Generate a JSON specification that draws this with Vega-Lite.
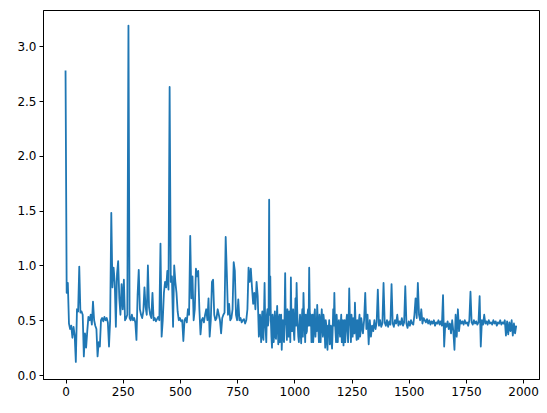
{
  "$schema": "https://vega.github.io/schema/vega-lite/v6.json",
  "autosize": "none",
  "width": 496,
  "height": 369,
  "padding": {"left": 43, "top": 10, "right": 8, "bottom": 34},
  "background": "white",
  "config": {
    "view": {"stroke": "black", "strokeWidth": 1},
    "axis": {
      "grid": false,
      "domainColor": "black",
      "domainWidth": 1,
      "tickColor": "black",
      "tickWidth": 1,
      "tickSize": 4,
      "labelFont": "DejaVu Sans",
      "labelFontSize": 12,
      "labelColor": "black",
      "labelPadding": 3,
      "title": null
    }
  },
  "data": {"values": [
    {"x":0,"y":2.78},{"x":5,"y":0.75},{"x":10,"y":0.84},{"x":15,"y":0.47},{"x":20,"y":0.42},{"x":25,"y":0.45},{"x":30,"y":0.34},{"x":35,"y":0.44},{"x":40,"y":0.36},{"x":45,"y":0.12},
    {"x":50,"y":0.6},{"x":55,"y":0.58},{"x":60,"y":0.99},{"x":65,"y":0.57},{"x":70,"y":0.58},{"x":75,"y":0.55},{"x":80,"y":0.17},{"x":85,"y":0.38},{"x":90,"y":0.25},{"x":95,"y":0.4},
    {"x":100,"y":0.53},{"x":105,"y":0.5},{"x":110,"y":0.55},{"x":115,"y":0.46},{"x":120,"y":0.67},{"x":125,"y":0.5},{"x":130,"y":0.45},{"x":135,"y":0.42},{"x":140,"y":0.17},{"x":145,"y":0.3},
    {"x":150,"y":0.26},{"x":155,"y":0.5},{"x":160,"y":0.52},{"x":165,"y":0.49},{"x":170,"y":0.53},{"x":175,"y":0.5},{"x":180,"y":0.52},{"x":185,"y":0.48},{"x":190,"y":0.26},{"x":195,"y":0.5},
    {"x":200,"y":1.48},{"x":205,"y":0.8},{"x":210,"y":0.98},{"x":215,"y":0.85},{"x":220,"y":0.44},{"x":225,"y":0.92},{"x":230,"y":1.04},{"x":235,"y":0.7},{"x":240,"y":0.55},{"x":245,"y":0.83},
    {"x":250,"y":0.6},{"x":255,"y":0.87},{"x":260,"y":0.5},{"x":265,"y":0.52},{"x":270,"y":0.55},{"x":275,"y":3.19},{"x":280,"y":0.52},{"x":285,"y":0.5},{"x":290,"y":0.55},{"x":295,"y":0.5},
    {"x":300,"y":0.52},{"x":305,"y":0.48},{"x":310,"y":0.32},{"x":315,"y":0.73},{"x":320,"y":0.96},{"x":325,"y":0.6},{"x":330,"y":0.55},{"x":335,"y":0.52},{"x":340,"y":0.58},{"x":345,"y":0.8},
    {"x":350,"y":0.62},{"x":355,"y":0.55},{"x":360,"y":1.0},{"x":365,"y":0.62},{"x":370,"y":0.55},{"x":375,"y":0.52},{"x":380,"y":0.75},{"x":385,"y":0.5},{"x":390,"y":0.52},{"x":395,"y":0.49},
    {"x":400,"y":0.51},{"x":405,"y":0.53},{"x":410,"y":0.5},{"x":415,"y":1.2},{"x":420,"y":0.35},{"x":425,"y":0.5},{"x":430,"y":0.75},{"x":435,"y":0.85},{"x":440,"y":0.8},{"x":445,"y":0.95},
    {"x":450,"y":0.78},{"x":455,"y":2.63},{"x":460,"y":0.85},{"x":465,"y":0.9},{"x":470,"y":0.44},{"x":475,"y":1.0},{"x":480,"y":0.85},{"x":485,"y":0.75},{"x":490,"y":0.58},{"x":495,"y":0.5},
    {"x":500,"y":0.52},{"x":505,"y":0.49},{"x":510,"y":0.5},{"x":515,"y":0.31},{"x":520,"y":0.5},{"x":525,"y":0.52},{"x":530,"y":0.48},{"x":535,"y":0.6},{"x":540,"y":0.55},{"x":545,"y":1.27},
    {"x":550,"y":0.7},{"x":555,"y":0.9},{"x":560,"y":0.5},{"x":565,"y":0.6},{"x":570,"y":0.97},{"x":575,"y":0.9},{"x":580,"y":0.95},{"x":585,"y":0.6},{"x":590,"y":0.37},{"x":595,"y":0.5},
    {"x":600,"y":0.52},{"x":605,"y":0.48},{"x":610,"y":0.55},{"x":615,"y":0.6},{"x":620,"y":0.5},{"x":625,"y":0.7},{"x":630,"y":0.35},{"x":635,"y":0.5},{"x":640,"y":0.85},{"x":645,"y":0.87},
    {"x":650,"y":0.55},{"x":655,"y":0.5},{"x":660,"y":0.52},{"x":665,"y":0.6},{"x":670,"y":0.55},{"x":675,"y":0.5},{"x":680,"y":0.38},{"x":685,"y":0.52},{"x":690,"y":0.55},{"x":695,"y":0.57},
    {"x":700,"y":1.26},{"x":705,"y":0.93},{"x":710,"y":0.55},{"x":715,"y":0.65},{"x":720,"y":0.5},{"x":725,"y":0.52},{"x":730,"y":0.6},{"x":735,"y":1.03},{"x":740,"y":0.95},{"x":745,"y":0.55},
    {"x":750,"y":0.5},{"x":755,"y":0.69},{"x":760,"y":0.5},{"x":765,"y":0.52},{"x":770,"y":0.48},{"x":775,"y":0.5},{"x":780,"y":0.51},{"x":785,"y":0.47},{"x":790,"y":0.5},{"x":795,"y":0.6},
    {"x":800,"y":0.98},{"x":805,"y":0.85},{"x":810,"y":0.97},{"x":815,"y":0.8},{"x":820,"y":0.65},{"x":825,"y":0.75},{"x":830,"y":0.6},{"x":835,"y":0.85},{"x":840,"y":0.72},{"x":845,"y":0.35},
    {"x":850,"y":0.55},{"x":855,"y":0.3},{"x":860,"y":0.58},{"x":865,"y":0.32},{"x":870,"y":0.84},{"x":875,"y":0.4},{"x":880,"y":0.55},{"x":885,"y":0.45},{"x":890,"y":1.6},{"x":895,"y":0.9},
    {"x":900,"y":0.35},{"x":905,"y":0.55},{"x":910,"y":0.3},{"x":915,"y":0.58},{"x":920,"y":0.33},{"x":925,"y":0.63},{"x":930,"y":0.28},{"x":935,"y":0.55},{"x":940,"y":0.35},{"x":945,"y":0.23},
    {"x":950,"y":0.5},{"x":955,"y":0.3},{"x":960,"y":0.93},{"x":965,"y":0.45},{"x":970,"y":0.6},{"x":975,"y":0.35},{"x":980,"y":0.55},{"x":985,"y":0.89},{"x":990,"y":0.4},{"x":995,"y":0.6},
    {"x":1000,"y":0.32},{"x":1005,"y":0.7},{"x":1010,"y":0.84},{"x":1015,"y":0.45},{"x":1020,"y":0.3},{"x":1025,"y":0.55},{"x":1030,"y":0.29},{"x":1035,"y":0.6},{"x":1040,"y":0.75},{"x":1045,"y":0.45},
    {"x":1050,"y":0.55},{"x":1055,"y":0.4},{"x":1060,"y":0.6},{"x":1065,"y":0.98},{"x":1070,"y":0.45},{"x":1075,"y":0.3},{"x":1080,"y":0.55},{"x":1085,"y":0.4},{"x":1090,"y":0.6},{"x":1095,"y":0.5},
    {"x":1100,"y":0.64},{"x":1105,"y":0.42},{"x":1110,"y":0.55},{"x":1115,"y":0.3},{"x":1120,"y":0.6},{"x":1125,"y":0.35},{"x":1130,"y":0.5},{"x":1135,"y":0.25},{"x":1140,"y":0.45},{"x":1145,"y":0.23},
    {"x":1150,"y":0.4},{"x":1155,"y":0.28},{"x":1160,"y":0.45},{"x":1165,"y":0.24},{"x":1170,"y":0.6},{"x":1175,"y":0.75},{"x":1180,"y":0.4},{"x":1185,"y":0.55},{"x":1190,"y":0.3},{"x":1195,"y":0.5},
    {"x":1200,"y":0.35},{"x":1205,"y":0.55},{"x":1210,"y":0.42},{"x":1215,"y":0.27},{"x":1220,"y":0.5},{"x":1225,"y":0.4},{"x":1230,"y":0.55},{"x":1235,"y":0.3},{"x":1240,"y":0.79},{"x":1245,"y":0.45},
    {"x":1250,"y":0.55},{"x":1255,"y":0.35},{"x":1260,"y":0.5},{"x":1265,"y":0.66},{"x":1270,"y":0.4},{"x":1275,"y":0.5},{"x":1280,"y":0.33},{"x":1285,"y":0.55},{"x":1290,"y":0.4},{"x":1295,"y":0.48},
    {"x":1300,"y":0.38},{"x":1305,"y":0.5},{"x":1310,"y":0.75},{"x":1315,"y":0.42},{"x":1320,"y":0.55},{"x":1325,"y":0.28},{"x":1330,"y":0.5},{"x":1335,"y":0.35},{"x":1340,"y":0.45},{"x":1345,"y":0.4},
    {"x":1350,"y":0.5},{"x":1355,"y":0.42},{"x":1360,"y":0.48},{"x":1365,"y":0.78},{"x":1370,"y":0.45},{"x":1375,"y":0.5},{"x":1380,"y":0.44},{"x":1385,"y":0.47},{"x":1390,"y":0.84},{"x":1395,"y":0.48},
    {"x":1400,"y":0.45},{"x":1405,"y":0.5},{"x":1410,"y":0.44},{"x":1415,"y":0.49},{"x":1420,"y":0.46},{"x":1425,"y":0.83},{"x":1430,"y":0.47},{"x":1435,"y":0.44},{"x":1440,"y":0.5},{"x":1445,"y":0.47},
    {"x":1450,"y":0.55},{"x":1455,"y":0.45},{"x":1460,"y":0.49},{"x":1465,"y":0.46},{"x":1470,"y":0.52},{"x":1475,"y":0.45},{"x":1480,"y":0.48},{"x":1485,"y":0.81},{"x":1490,"y":0.47},{"x":1495,"y":0.43},
    {"x":1500,"y":0.49},{"x":1505,"y":0.45},{"x":1510,"y":0.5},{"x":1515,"y":0.47},{"x":1520,"y":0.46},{"x":1525,"y":0.55},{"x":1530,"y":0.7},{"x":1535,"y":0.52},{"x":1540,"y":0.84},{"x":1545,"y":0.55},
    {"x":1550,"y":0.5},{"x":1555,"y":0.6},{"x":1560,"y":0.47},{"x":1565,"y":0.52},{"x":1570,"y":0.5},{"x":1575,"y":0.48},{"x":1580,"y":0.51},{"x":1585,"y":0.47},{"x":1590,"y":0.5},{"x":1595,"y":0.46},
    {"x":1600,"y":0.49},{"x":1605,"y":0.47},{"x":1610,"y":0.5},{"x":1615,"y":0.45},{"x":1620,"y":0.48},{"x":1625,"y":0.47},{"x":1630,"y":0.5},{"x":1635,"y":0.46},{"x":1640,"y":0.49},{"x":1645,"y":0.45},
    {"x":1650,"y":0.73},{"x":1655,"y":0.26},{"x":1660,"y":0.47},{"x":1665,"y":0.44},{"x":1670,"y":0.49},{"x":1675,"y":0.42},{"x":1680,"y":0.47},{"x":1685,"y":0.38},{"x":1690,"y":0.5},{"x":1695,"y":0.4},
    {"x":1700,"y":0.23},{"x":1705,"y":0.55},{"x":1710,"y":0.35},{"x":1715,"y":0.6},{"x":1720,"y":0.4},{"x":1725,"y":0.5},{"x":1730,"y":0.47},{"x":1735,"y":0.49},{"x":1740,"y":0.46},{"x":1745,"y":0.5},
    {"x":1750,"y":0.47},{"x":1755,"y":0.48},{"x":1760,"y":0.45},{"x":1765,"y":0.5},{"x":1770,"y":0.76},{"x":1775,"y":0.48},{"x":1780,"y":0.46},{"x":1785,"y":0.5},{"x":1790,"y":0.47},{"x":1795,"y":0.49},
    {"x":1800,"y":0.46},{"x":1805,"y":0.48},{"x":1810,"y":0.72},{"x":1815,"y":0.26},{"x":1820,"y":0.5},{"x":1825,"y":0.46},{"x":1830,"y":0.55},{"x":1835,"y":0.47},{"x":1840,"y":0.49},{"x":1845,"y":0.46},
    {"x":1850,"y":0.5},{"x":1855,"y":0.47},{"x":1860,"y":0.48},{"x":1865,"y":0.46},{"x":1870,"y":0.5},{"x":1875,"y":0.47},{"x":1880,"y":0.49},{"x":1885,"y":0.45},{"x":1890,"y":0.48},{"x":1895,"y":0.47},
    {"x":1900,"y":0.5},{"x":1905,"y":0.46},{"x":1910,"y":0.48},{"x":1915,"y":0.47},{"x":1920,"y":0.5},{"x":1925,"y":0.36},{"x":1930,"y":0.49},{"x":1935,"y":0.37},{"x":1940,"y":0.48},{"x":1945,"y":0.4},
    {"x":1950,"y":0.5},{"x":1955,"y":0.36},{"x":1960,"y":0.47},{"x":1965,"y":0.38},{"x":1970,"y":0.45},
    {"x":847.5,"y":0.4},{"x":852.5,"y":0.45},{"x":857.5,"y":0.5},{"x":862.5,"y":0.35},{"x":867.5,"y":0.55},{"x":872.5,"y":0.5},{"x":877.5,"y":0.3},{"x":882.5,"y":0.6},{"x":887.5,"y":0.5},{"x":892.5,"y":0.55},
    {"x":897.5,"y":0.5},{"x":902.5,"y":0.25},{"x":907.5,"y":0.45},{"x":912.5,"y":0.5},{"x":917.5,"y":0.35},{"x":922.5,"y":0.5},{"x":927.5,"y":0.45},{"x":932.5,"y":0.5},{"x":937.5,"y":0.3},{"x":942.5,"y":0.55},
    {"x":947.5,"y":0.4},{"x":952.5,"y":0.35},{"x":957.5,"y":0.55},{"x":962.5,"y":0.5},{"x":967.5,"y":0.32},{"x":972.5,"y":0.45},{"x":977.5,"y":0.58},{"x":982.5,"y":0.3},{"x":987.5,"y":0.5},{"x":992.5,"y":0.55},
    {"x":997.5,"y":0.4},{"x":1002.5,"y":0.5},{"x":1007.5,"y":0.45},{"x":1012.5,"y":0.6},{"x":1017.5,"y":0.35},{"x":1022.5,"y":0.45},{"x":1027.5,"y":0.4},{"x":1032.5,"y":0.5},{"x":1037.5,"y":0.35},{"x":1042.5,"y":0.55},
    {"x":1047.5,"y":0.3},{"x":1052.5,"y":0.38},{"x":1057.5,"y":0.55},{"x":1062.5,"y":0.45},{"x":1067.5,"y":0.6},{"x":1072.5,"y":0.55},{"x":1077.5,"y":0.45},{"x":1082.5,"y":0.3},{"x":1087.5,"y":0.55},{"x":1092.5,"y":0.35},
    {"x":1097.5,"y":0.4},{"x":1102.5,"y":0.5},{"x":1107.5,"y":0.3},{"x":1112.5,"y":0.45},{"x":1117.5,"y":0.5},{"x":1122.5,"y":0.45},{"x":1127.5,"y":0.55},{"x":1132.5,"y":0.4},{"x":1137.5,"y":0.5},{"x":1142.5,"y":0.3},
    {"x":1147.5,"y":0.45},{"x":1152.5,"y":0.5},{"x":1157.5,"y":0.42},{"x":1162.5,"y":0.3},{"x":1167.5,"y":0.4},{"x":1172.5,"y":0.45},{"x":1177.5,"y":0.5},{"x":1182.5,"y":0.3},{"x":1187.5,"y":0.45},{"x":1192.5,"y":0.48},
    {"x":1197.5,"y":0.42},{"x":1202.5,"y":0.45},{"x":1207.5,"y":0.3},{"x":1212.5,"y":0.5},{"x":1217.5,"y":0.45},{"x":1222.5,"y":0.3},{"x":1227.5,"y":0.5},{"x":1232.5,"y":0.42},{"x":1237.5,"y":0.5},{"x":1242.5,"y":0.55},
    {"x":1247.5,"y":0.3},{"x":1252.5,"y":0.45},{"x":1257.5,"y":0.52},{"x":1262.5,"y":0.38},{"x":1267.5,"y":0.5},{"x":1272.5,"y":0.32},{"x":1277.5,"y":0.45},{"x":1282.5,"y":0.5},{"x":1287.5,"y":0.35},{"x":1292.5,"y":0.52},
    {"x":1297.5,"y":0.42}
  ]},
  "mark": {"type": "line", "color": "#1f77b4", "strokeWidth": 1.8, "strokeJoin": "round", "clip": true},
  "encoding": {
    "x": {
      "field": "x", "type": "quantitative",
      "scale": {"domain": [-98.5, 2069.5], "nice": false, "zero": false},
      "axis": {"values": [0, 250, 500, 750, 1000, 1250, 1500, 1750, 2000], "format": "d"}
    },
    "y": {
      "field": "y", "type": "quantitative",
      "scale": {"domain": [-0.0365, 3.332], "nice": false, "zero": false},
      "axis": {"values": [0, 0.5, 1, 1.5, 2, 2.5, 3], "format": ".1f"}
    }
  }
}
